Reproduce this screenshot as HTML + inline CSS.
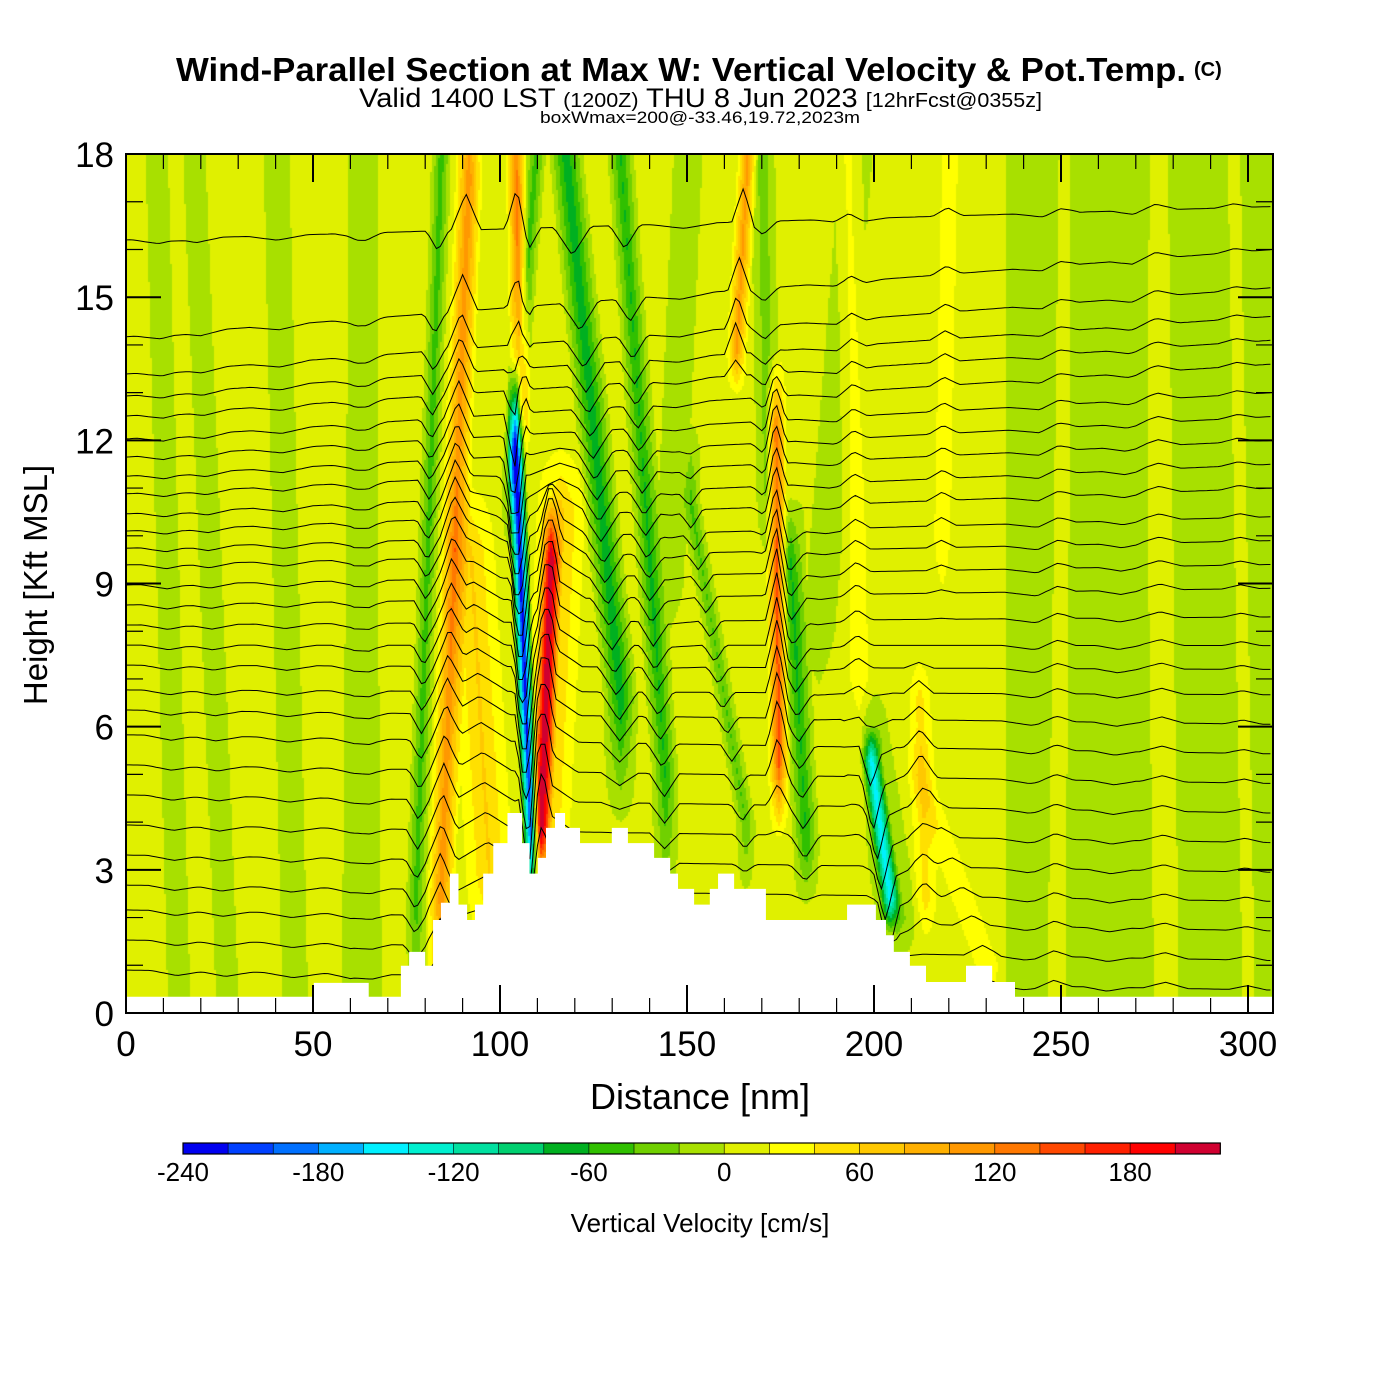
<!DOCTYPE html>
<html><head><meta charset="utf-8">
<style>
html,body{margin:0;padding:0;background:#fff;}
#wrap{position:relative;width:1400px;height:1400px;overflow:hidden;}
#field{position:absolute;left:126px;top:154px;}
svg{position:absolute;left:0;top:0;}
text{font-family:"Liberation Sans",sans-serif;fill:#000;}
</style></head><body>
<div id="wrap">
<canvas id="field" width="1147" height="859"></canvas>
<svg id="svg" width="1400" height="1400">
<text x="176" y="81" font-size="33" font-weight="bold" textLength="1010" lengthAdjust="spacingAndGlyphs">Wind-Parallel Section at Max W: Vertical Velocity &amp; Pot.Temp.</text>
<text x="1194" y="76" font-size="20" font-weight="bold">(C)</text>
<text x="359" y="107" font-size="27" textLength="683" lengthAdjust="spacingAndGlyphs">Valid 1400 LST <tspan font-size="20">(1200Z)</tspan> THU 8 Jun 2023 <tspan font-size="20">[12hrFcst@0355z]</tspan></text>
<text x="540" y="123" font-size="17" textLength="320" lengthAdjust="spacingAndGlyphs">boxWmax=200@-33.46,19.72,2023m</text>
<text x="700" y="1109" font-size="36" text-anchor="middle">Distance [nm]</text>
<text transform="translate(47,585) rotate(-90)" font-size="33" text-anchor="middle">Height [Kft MSL]</text>
<text x="700" y="1232" font-size="26" text-anchor="middle">Vertical Velocity [cm/s]</text>
<g id="contours"></g>
<g id="terrain"></g>
<g id="axes"></g>
<g id="cbar"></g>
</svg>
</div>
<script>
// ---- data ----
const levelValues=[-240,-220,-200,-180,-160,-140,-120,-100,-80,-60,-40,-20,0,20,40,60,80,100,120,140,160,180,200,220];
const levelColors=["#0000f0","#0040ff","#0070ff","#00b0ff","#00f0ff","#00f0d0","#00e0a0","#00d070","#00b020","#30c000","#70d000","#a8e000","#e0f000","#ffff00","#ffe000","#ffc800","#ffb000","#ff9800","#ff7800","#ff4800","#ff2000","#ff0000","#d00030"];
const cbarTicks=[-240,-180,-120,-60,0,60,120,180];
const xTicks=[0,50,100,150,200,250,300];
const yTicks=[0,3,6,9,12,15,18];
// terrain steps: start distance (nm) and height (kft)
const terrStart=[0,50.2,64.9,73.5,75.7,80,82.1,84.2,86.6,88.9,91.2,93.3,95.5,98.2,102,105.9,107.9,110.1,112.3,114.7,117.4,121.4,129.9,134.2,141.2,145.5,147.6,151.9,156.1,158.3,162.6,171.1,173.3,192.8,200.5,203.2,205.3,209.6,213.9,224.6,231.6,237.7];
const terrHeight=[0.34,0.63,0.34,0.99,1.28,0.99,1.95,2.31,2.92,2.27,1.95,2.27,2.92,3.56,4.19,3.56,2.92,3.25,3.88,4.19,3.88,3.56,3.88,3.56,3.25,2.92,2.6,2.27,2.6,2.92,2.6,1.95,1.95,2.27,1.95,1.63,1.28,0.99,0.65,0.99,0.65,0.34];
// vertical velocity bands: bottom (d0,h0) -> top (d1,h1), half-width (nm), peak value (cm/s)
const bandD0=[84,77.3,97,105.3,108,109.4,110.7,112,117.4,132,166,173.5,177.5,170,199,198,212,150.8,193,220,212,250,275,296,14,27,45,60,66,145,185,240,262];
const bandH0=[2.4,2.4,2.8,12.8,3.8,18,4,3.8,18,18,18,12.2,9.5,18,5.3,6,6.6,10.7,18,18,5,18,18,18,0,0,0,0,0,9,8,0,0];
const bandD1=[91.4,84,92,104,104,102.7,113.4,116,132,144,163,174.3,181.6,171.5,204,206,213.6,165.5,196,218,230,248,278,300,8,18,40,62,64,150,195,246,270];
const bandH1=[17.5,17.9,9.7,18,11.8,11.2,9.5,10.5,6.6,4.9,13.9,5.3,3.6,11,2.4,2,2.4,4,6,10,1,0,0,0,18,18,18,18,18,18,18,18,18];
const bandW=[4,3,8,3,2.6,3,3,8,5,4,3,3,4,4,3,7,4,3,4,4,5,5,6,5,7,7,8,6,5,9,10,8,6];
const bandV=[110,-60,55,120,-250,-60,185,60,-85,-70,100,145,-70,-40,-130,-40,42,-50,30,25,30,18,18,12,-14,-14,-14,-14,-14,-14,-14,-12,-12];
// potential temperature contour heights (kft) at left and right edges
const thetaLeft=[0.9,1.53,2.16,2.68,3.31,3.94,4.57,5.2,5.83,6.35,6.77,7.29,7.71,8.13,8.55,8.97,9.39,9.74,10.1,10.46,10.88,11.25,11.65,12.03,12.51,12.93,13.39,14.17,16.2];
const thetaRight=[0.48,1.1,1.72,2.34,2.95,3.57,4.19,4.81,5.43,6.05,6.67,7.2,7.7,8.3,8.9,9.4,9.9,10.4,11,11.5,12,12.5,13.0,13.6,14.1,14.6,15.2,16.0,16.9];

// ---- axes functions ----
const X0=126,Y0=1013,PX=3.74,PY=47.72,PW=1147,PH=859;
const X=d=>X0+d*PX, Y=h=>Y0-h*PY;
const NS="http://www.w3.org/2000/svg";
function mk(tag,parent,attrs){const e=document.createElementNS(NS,tag);for(const k in attrs)e.setAttribute(k,attrs[k]);parent.appendChild(e);return e;}

function bandVal(i,d,h){
  const t=(h-bandH0[i])/(bandH1[i]-bandH0[i]);
  let att=1;
  if(t<0)att=Math.max(0,1+t*4); else if(t>1)att=Math.max(0,1-(t-1)*4);
  if(att<=0)return 0;
  const tc=Math.min(1,Math.max(0,t));
  const c=bandD0[i]+tc*(bandD1[i]-bandD0[i]);
  const f=1-Math.abs(d-c)/bandW[i];
  return f>0?bandV[i]*f*att:0;
}
function wField(d,h){
  let v=d>235?-8:8;
  for(let i=0;i<bandV.length;i++)v+=bandVal(i,d,h);
  return v;
}

// ---- field on canvas ----
const cv=document.getElementById('field'),ctx=cv.getContext('2d');
const img=ctx.createImageData(PW,PH);
const rgb=levelColors.map(c=>[parseInt(c.substr(1,2),16),parseInt(c.substr(3,2),16),parseInt(c.substr(5,2),16)]);
for(let py=0;py<PH;py+=2){
  const h=(PH-py)/PY;
  for(let px=0;px<PW;px+=2){
    const d=px/PX;
    let k=Math.floor((wField(d,h)+240)/20);k=Math.max(0,Math.min(22,k));
    const c=rgb[k];
    for(let yy=0;yy<2&&py+yy<PH;yy++)for(let xx=0;xx<2&&px+xx<PW;xx++){
      const o=((py+yy)*PW+px+xx)*4;img.data[o]=c[0];img.data[o+1]=c[1];img.data[o+2]=c[2];img.data[o+3]=255;}
  }
}
ctx.putImageData(img,0,0);

// ---- theta contours ----
const cg=document.getElementById('contours');
const dMax=(PW)/PX;
for(let k=0;k<thetaLeft.length;k++){
  let pts=[];
  for(let d=0;d<=dMax;d+=1){
    const base=thetaLeft[k]+(thetaRight[k]-thetaLeft[k])*(d/dMax);
    let disp=0;
    for(let i=0;i<bandV.length;i++)disp+=bandVal(i,d,base);
    disp=Math.max(-1.2,Math.min(1.2,disp*0.007));
    const h=Math.min(18.3,base+disp);
    pts.push(X(d).toFixed(1)+","+Y(h).toFixed(1));
  }
  const pl=mk('polyline',cg,{points:pts.join(" "),fill:"none",stroke:"#000","stroke-width":"1"});
  
  
}
const cp=mk('clipPath',document.getElementById('svg'),{id:"pclip"});
mk('rect',cp,{x:X0,y:154,width:PW,height:PH});
cg.setAttribute('clip-path','url(#pclip)');

// ---- terrain ----
const tg=document.getElementById('terrain');
let tp="M"+X(0)+","+Y0;
for(let i=0;i<terrStart.length;i++){
  const x1=X(terrStart[i]),x2=i+1<terrStart.length?X(terrStart[i+1]):X0+PW;
  tp+=" L"+x1+","+Y(terrHeight[i])+" L"+x2+","+Y(terrHeight[i]);
}
tp+=" L"+(X0+PW)+","+Y0+" Z";
const tpath=mk('path',tg,{d:tp,fill:"#fff",stroke:"none"});



// ---- axes ----
const ag=document.getElementById('axes');
const frame=mk('rect',ag,{x:X0,y:154,width:PW,height:PH,fill:"none",stroke:"#000","stroke-width":"2"});


for(let d=0;d<=306;d+=10){
  const major=d%50===0,L=major?28:15,x=X(d);
  mk('line',ag,{x1:x,y1:Y0,x2:x,y2:Y0-L,stroke:"#000","stroke-width":major?2:1.2});
  mk('line',ag,{x1:x,y1:154,x2:x,y2:154+L,stroke:"#000","stroke-width":major?2:1.2});
}
for(let h=0;h<=18;h++){
  const major=h%3===0,L=major?35:17,y=Y(h);
  mk('line',ag,{x1:X0,y1:y,x2:X0+L,y2:y,stroke:"#000","stroke-width":major?2:1.2});
  mk('line',ag,{x1:X0+PW,y1:y,x2:X0+PW-L,y2:y,stroke:"#000","stroke-width":major?2:1.2});
}
xTicks.forEach(v=>{
  const t=mk('text',ag,{x:X(v),y:1056,"font-size":"35","text-anchor":"middle"});t.textContent=v;
  
  
});
yTicks.forEach(v=>{
  const t=mk('text',ag,{x:114,y:Y(v)+13,"font-size":"35","text-anchor":"end"});t.textContent=v;
  
  
});

// ---- colorbar ----
const bg=document.getElementById('cbar');
const CB0=183,CBW=45.1,CBY=1143,CBH=11;
const cbX=v=>CB0+(v+240)/20*CBW;
for(let i=0;i<levelColors.length;i++){
  const r=mk('rect',bg,{x:cbX(levelValues[i]),y:CBY,width:CBW+0.5,height:CBH,fill:levelColors[i]});
  
  
}
mk('rect',bg,{x:CB0,y:CBY,width:cbX(220)-CB0,height:CBH,fill:"none",stroke:"#000","stroke-width":"1.2"});
for(let i=1;i<levelColors.length;i++)mk('line',bg,{x1:cbX(levelValues[i]),y1:CBY,x2:cbX(levelValues[i]),y2:CBY+CBH,stroke:"#000","stroke-width":"0.6"});
cbarTicks.forEach(v=>{
  const t=mk('text',bg,{x:cbX(v),y:1181,"font-size":"26","text-anchor":"middle"});t.textContent=v;
  
  
});
</script>
</body></html>
